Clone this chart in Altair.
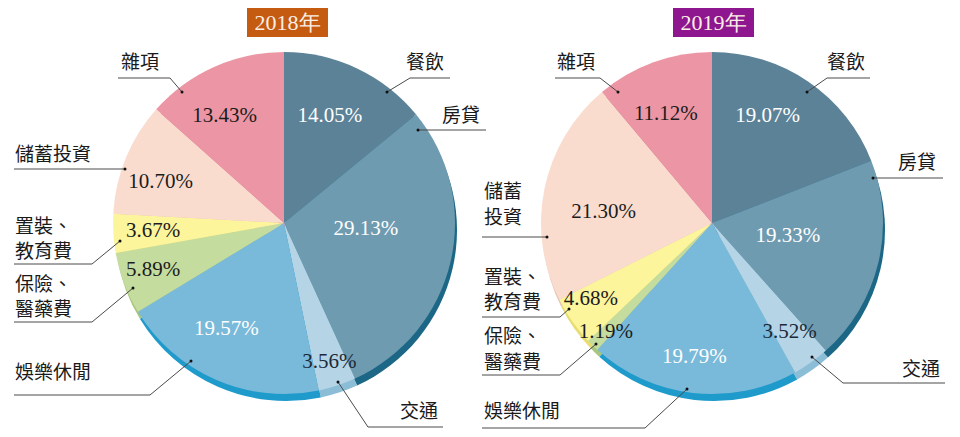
import altair as alt
import pandas as pd

# ---------------- data ----------------
categories = ["餐飲", "房貸", "交通", "娛樂休閒", "保險、醫藥費", "置裝、教育費", "儲蓄投資", "雜項"]
years = ["2018年", "2019年"]
values_2018 = [14.05, 29.13, 3.56, 19.57, 5.89, 3.67, 10.70, 13.43]
values_2019 = [19.07, 19.33, 3.52, 19.79, 1.19, 4.68, 21.30, 11.12]

# ---------------- styles ----------------
face_colors = ["#5c8298", "#6f9bb1", "#b5d5e6", "#79b9d9", "#c5dc9f", "#fdf59c", "#fadccf", "#ec96a5"]
rim_colors = ["#2a6f8f", "#1b6785", "#8bbdd6", "#1e9acb", "#a9c77c", "#e8dd70", "#e6c0b0", "#d07485"]
pct_colors = ["#ffffff", "#ffffff", "#1c2a38", "#ffffff", "#1c1c1c", "#1c1c1c", "#1c1c1c", "#1c1c1c"]
title_fill = ["#c55a11", "#8e168e"]

# ---------------- layout ----------------
center_x = [284, 712]
center_y = 223
radius = 171
rim_dx, rim_dy = 2, 7
# per-slice label radius and angle tweak (degrees) for the percentage labels
label_r = [[116, 82, 146, 121, 139, 131, 130, 122],
           [121, 77, 134, 135, 152, 143, 109, 118]]
label_da = [[-2, -9, 0, 5, 1, 0, -4, -5],
            [-7, -4, 0, 1, 0, 3, -6, -3]]

rows = []
for yi, (yr, vals) in enumerate(zip(years, [values_2018, values_2019])):
    for ci, (cat, v) in enumerate(zip(categories, vals)):
        rows.append(dict(year=yr, category=cat, order=ci, value=v,
                         cx=center_x[yi], cy=center_y,
                         lr=label_r[yi][ci], la=label_da[yi][ci]))
df = pd.DataFrame(rows)

# category name labels (one row per text line)
name_rows = [
    # 2018
    ("雜項", 121, 63), ("餐飲", 406, 63), ("房貸", 442, 116), ("儲蓄投資", 15, 155),
    ("置裝、", 15, 227), ("教育費", 15, 252), ("保險、", 15, 285), ("醫藥費", 15, 310),
    ("娛樂休閒", 15, 373), ("交通", 400, 412),
    # 2019
    ("雜項", 557, 63), ("餐飲", 827, 63), ("房貸", 898, 163), ("儲蓄", 484, 192), ("投資", 484, 218),
    ("置裝、", 484, 278), ("教育費", 484, 303), ("保險、", 484, 337), ("醫藥費", 484, 363),
    ("娛樂休閒", 484, 412), ("交通", 902, 370),
]
names_df = pd.DataFrame(name_rows, columns=["name", "x", "y"])

# leader lines: first point is the dot inside the slice
leaders = [
    [(182, 92), (170, 78), (118, 78)],
    [(387, 92), (410, 78), (450, 78)],
    [(418, 130), (486, 130)],
    [(125, 169), (14, 169)],
    [(120, 241), (92, 264), (14, 264)],
    [(133, 288), (92, 322), (14, 322)],
    [(191, 361), (150, 395), (14, 395)],
    [(338, 382), (368, 427), (443, 427)],
    [(618, 92), (600, 78), (555, 78)],
    [(807, 92), (827, 78), (870, 78)],
    [(873, 178), (943, 178)],
    [(547, 237), (482, 237)],
    [(569, 309), (560, 317), (482, 317)],
    [(596, 344), (560, 375), (482, 375)],
    [(687, 389), (645, 428), (482, 428)],
    [(812, 357), (843, 383), (945, 383)],
]
line_rows, dot_rows = [], []
for i, pts in enumerate(leaders):
    for j, (x, y) in enumerate(pts):
        line_rows.append(dict(id=i, seq=j, x=x, y=y))
    dot_rows.append(dict(x=pts[0][0], y=pts[0][1]))
lines_df = pd.DataFrame(line_rows)
dots_df = pd.DataFrame(dot_rows)

titles_df = pd.DataFrame(dict(
    year=years, x=[247, 673], x2=[328, 754], y=[8, 8], y2=[37, 37],
    tx=[287.5, 713.5], ty=[23, 23]))

NOX = dict(scale=None, axis=None)

base = alt.Chart(df).transform_window(
    cum="sum(value)", groupby=["year"], sort=[alt.SortField("order")], frame=[None, 0]
).transform_calculate(
    a0="(datum.cum - datum.value) / 100 * 2 * PI",
    a1="datum.cum / 100 * 2 * PI",
    rx=f"datum.cx + {rim_dx}",
    ry=f"datum.cy + {rim_dy}",
    mid="(datum.cum - datum.value / 2) / 100 * 2 * PI + datum.la * PI / 180",
    px="datum.cx + datum.lr * sin(datum.mid)",
    py="datum.cy - datum.lr * cos(datum.mid)",
    pct="format(datum.value, '.2f') + '%'",
)

rim = base.mark_arc(radius=radius).encode(
    theta=alt.Theta("a0:Q", scale=None), theta2="a1:Q",
    x=alt.X("rx:Q", **NOX), y=alt.Y("ry:Q", **NOX),
    color=alt.Color("category:N", scale=alt.Scale(domain=categories, range=rim_colors), legend=None),
)
face = base.mark_arc(radius=radius).encode(
    theta=alt.Theta("a0:Q", scale=None), theta2="a1:Q",
    x=alt.X("cx:Q", **NOX), y=alt.Y("cy:Q", **NOX),
    color=alt.Color("category:N", scale=alt.Scale(domain=categories, range=face_colors), legend=None),
)
pct = base.mark_text(font="Liberation Serif", fontSize=21, align="center", baseline="middle").encode(
    x=alt.X("px:Q", **NOX), y=alt.Y("py:Q", **NOX), text="pct:N",
    color=alt.Color("category:N", scale=alt.Scale(domain=categories, range=pct_colors), legend=None),
)

leader = alt.Chart(lines_df).mark_line(color="#4a4a4a", strokeWidth=1).encode(
    x=alt.X("x:Q", **NOX), y=alt.Y("y:Q", **NOX), detail="id:N", order="seq:Q")
dots = alt.Chart(dots_df).mark_circle(color="#111111", size=9, opacity=1).encode(
    x=alt.X("x:Q", **NOX), y=alt.Y("y:Q", **NOX))

names = alt.Chart(names_df).mark_text(
    font="Noto Sans CJK TC", fontSize=19, align="left", baseline="middle", color="#1a1a1a"
).encode(x=alt.X("x:Q", **NOX), y=alt.Y("y:Q", **NOX), text="name:N")

tbox = alt.Chart(titles_df).mark_rect().encode(
    x=alt.X("x:Q", **NOX), x2="x2:Q", y=alt.Y("y:Q", **NOX), y2="y2:Q",
    color=alt.Color("year:N", scale=alt.Scale(domain=years, range=title_fill), legend=None))
ttext = alt.Chart(titles_df).mark_text(
    font="Liberation Serif", fontSize=22, color="#fbeee6", align="center", baseline="middle"
).encode(x=alt.X("tx:Q", **NOX), y=alt.Y("ty:Q", **NOX), text="year:N")

chart = alt.layer(rim, face, leader, dots, pct, names, tbox, ttext).resolve_scale(
    color="independent"
).properties(
    width=960, height=437, padding=0, autosize=alt.AutoSizeParams(type="none"), background="white"
).configure_view(stroke=None)

chart.save("out.html", embed_options={"renderer": "svg", "actions": False})
